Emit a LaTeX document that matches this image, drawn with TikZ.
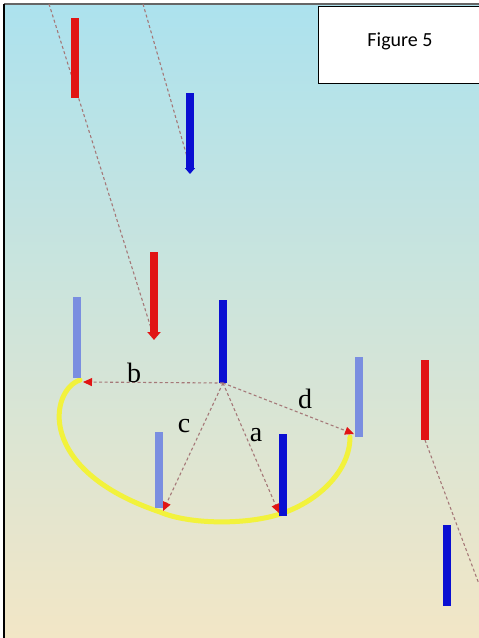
\documentclass[tikz,border=0pt]{standalone}
\usepackage{fontspec}
\setmainfont{Liberation Serif}
\newfontfamily\calfont{Carlito}
\usetikzlibrary{arrows.meta}
\definecolor{bgtop}{RGB}{172,226,238}
\definecolor{bgbot}{RGB}{242,230,198}
\definecolor{barred}{RGB}{225,20,20}
\definecolor{barblue}{RGB}{10,15,210}
\definecolor{barlight}{RGB}{122,142,224}
\definecolor{dashc}{RGB}{165,120,120}
\definecolor{loopy}{RGB}{242,242,60}
\tikzset{
  bar/.style={line width=8pt},
  redbar/.style={bar,draw=barred},
  bluebar/.style={bar,draw=barblue},
  lightbar/.style={bar,draw=barlight},
  trace/.style={draw=dashc,line width=1.1pt,dash pattern=on 3pt off 2.5pt},
  vec/.style={trace,-{Triangle[length=9pt,width=8pt,color=barred]}},
  lab/.style={font=\fontsize{28}{28}\selectfont,inner sep=1pt},
  yloop/.style={draw=loopy,line width=5pt,line cap=round}
}
\begin{document}
\begin{tikzpicture}[x=1pt,y=-1pt]
\useasboundingbox (0,0) rectangle (479,638);
\shade[top color=bgtop,bottom color=bgbot] (4,4) rectangle (479,638);
\draw[gray!80!black,line width=1.5pt] (4,4) -- (479,4);
\draw[black,line width=1.5pt] (4,4) -- (4,638);
% coordinates
\coordinate (r1t) at (75,18); \coordinate (r1b) at (75,98);
\coordinate (b1t) at (190,93); \coordinate (b1b) at (190,174);
\coordinate (r2t) at (154,252); \coordinate (r2b) at (154,340);
\coordinate (lbt) at (77,297); \coordinate (lbb) at (77,378);
\coordinate (lct) at (159,432); \coordinate (lcb) at (159,508);
\coordinate (ldt) at (359,357); \coordinate (ldb) at (359,437);
\coordinate (o) at (223,383);
\coordinate (bct) at (223,300);
\coordinate (bat) at (283,434); \coordinate (bab) at (283,516);
\coordinate (r3t) at (425,360); \coordinate (r3b) at (425,440);
\coordinate (b3t) at (447,525); \coordinate (b3b) at (447,606);
\coordinate (eb) at (83,382);
\coordinate (ec) at (163,511);
\coordinate (ea) at (279,513);
\coordinate (ed) at (354,434);
\coordinate (s1) at (49,4); \coordinate (e1) at (151,328);
\coordinate (s2) at (143,4); \coordinate (e2) at (188,160);
\coordinate (e3) at (479,584);
% yellow loop
\draw[yloop] (80,380) .. controls (50,390) and (35,470) .. (160,512)
  .. controls (190,525) and (250,525) .. (283,513)
  .. controls (320,500) and (350,470) .. (350,437);
% trajectories
\draw[trace] (s1) -- (e1);
\draw[trace] (s2) -- (e2);
\draw[trace] (r3b) -- (e3);
% bars
\draw[redbar] (r1t) -- (r1b);
\draw[bluebar,-{Triangle[length=6pt,width=10pt]}] (b1t) -- (b1b);
\draw[redbar,-{Triangle[length=8pt,width=13pt]}] (r2t) -- (r2b);
\draw[lightbar] (lbt) -- (lbb);
\draw[lightbar] (lct) -- (lcb);
\draw[lightbar] (ldt) -- (ldb);
\draw[bluebar] (bct) -- (o);
\draw[bluebar] (bat) -- (bab);
\draw[redbar] (r3t) -- (r3b);
\draw[bluebar] (b3t) -- (b3b);
% vectors
\draw[vec] (o) -- (eb);
\draw[vec] (o) -- (ec);
\draw[vec] (o) -- (ea);
\draw[vec] (o) -- (ed);
\node[lab] (lb) at (134,373) {b};
\node[lab] (lc) at (184,426) {c};
\node[lab] (la) at (256,435) {a};
\node[lab] (ld) at (305,399) {d};
% figure label box
\node[draw=black,fill=white,line width=1pt,minimum width=165pt,minimum height=77pt,anchor=north west,inner sep=0pt] (fig) at (318,6) {};
\node[font=\calfont\fontsize{20}{20}\selectfont,inner sep=0pt] (figt) at (400,41) {Figure 5};
\end{tikzpicture}
\end{document}
